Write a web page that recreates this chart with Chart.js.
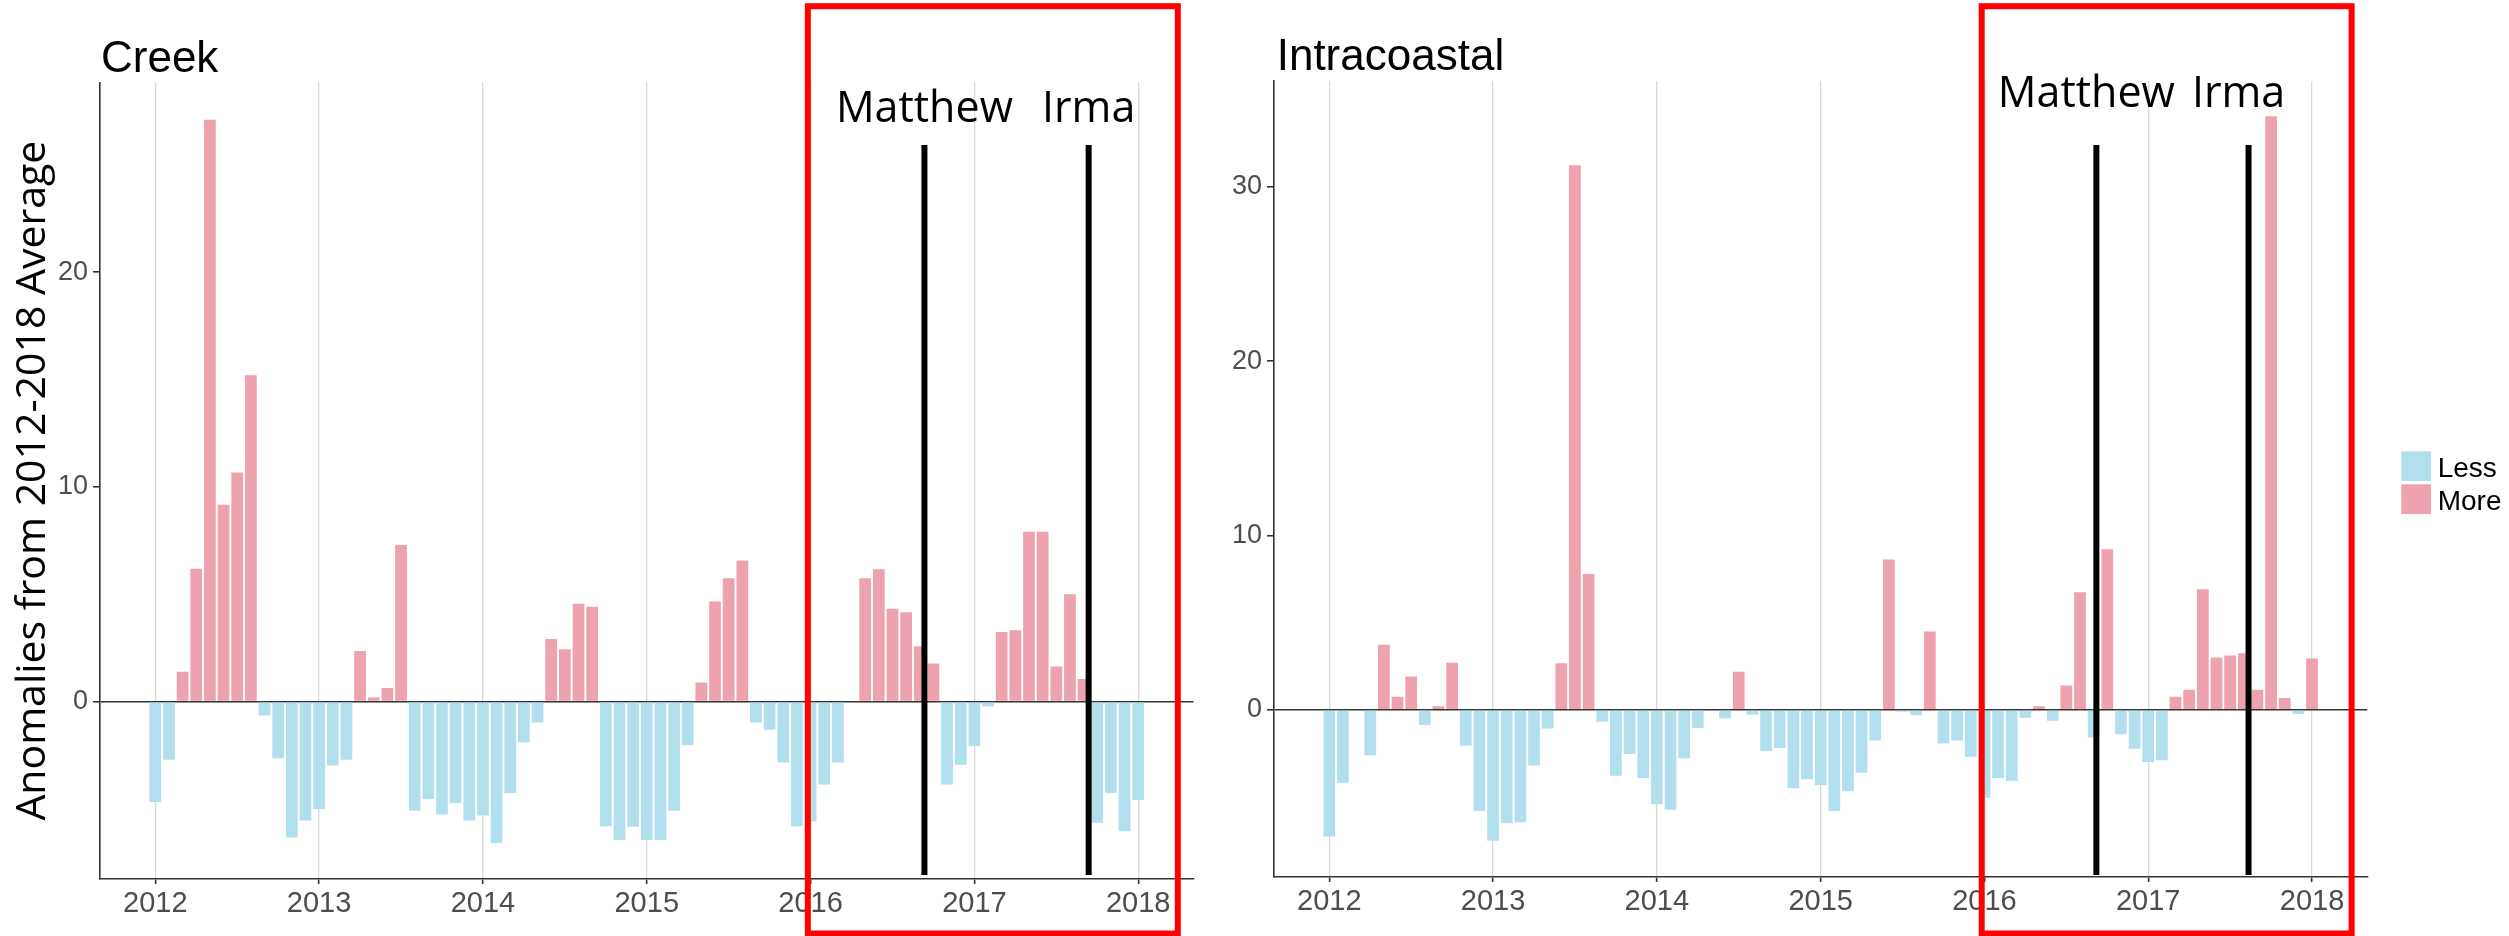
<!DOCTYPE html>
<html>
<head>
<meta charset="utf-8">
<script src="https://cdn.jsdelivr.net/npm/chart.js@4.4.7/dist/chart.umd.min.js"></script>
<style>
  html, body { margin: 0; padding: 0; background: #fff; }
  #wrap { position: relative; width: 2509px; height: 936px; overflow: hidden; background: #fff; }
  #creek { position: absolute; left: 0; top: 0; width: 1200px; height: 936px; }
  #intra { position: absolute; left: 1200px; top: 0; width: 1309px; height: 936px; }
</style>
</head>
<body>
<div id="wrap">
  <canvas id="creek" width="1200" height="936"></canvas>
  <canvas id="intra" width="1309" height="936"></canvas>
</div>
<script>
// monthly anomalies, Jan 2012 .. Jan 2018 (x = month index from Jan 2012)
var yearLabels = ['2012', '2013', '2014', '2015', '2016', '2017', '2018'];
var yearTicks = [0, 12, 24, 36, 48, 60, 72];

var creekValues = [
  -4.67, -2.7, 1.39, 6.19, 27.1, 9.17, 10.67, 15.2, -0.64, -2.64, -6.33, -5.53,
  -5.0, -2.97, -2.7, 2.36, 0.19, 0.64, 7.3, -5.08, -4.53, -5.25, -4.72, -5.53,
  -5.3, -6.58, -4.25, -1.89, -0.97, 2.92, 2.44, 4.56, 4.42, -5.8, -6.44, -5.83,
  -6.44, -6.44, -5.08, -2.03, 0.89, 4.67, 5.75, 6.58, -0.97, -1.31, -2.83, -5.8,
  -5.58, -3.86, -2.83, 0, 5.75, 6.17, 4.33, 4.17, 2.58, 1.78, -3.86, -2.94,
  -2.08, -0.22, 3.25, 3.33, 7.92, 7.92, 1.64, 5.0, 1.06, -5.64, -4.25, -6.03,
  -4.58
];

var intraValues = [
  -7.26, -4.18, 0, -2.6, 3.73, 0.75, 1.92, -0.86, 0.21, 2.7, -2.05, -5.79,
  -7.5, -6.5, -6.44, -3.18, -1.06, 2.67, 31.23, 7.8, -0.68, -3.77, -2.53, -3.9,
  -5.41, -5.72, -2.77, -1.03, 0, -0.48, 2.19, -0.27, -2.36, -2.19, -4.49, -3.97,
  -4.32, -5.79, -4.66, -3.6, -1.75, 8.63, -0.1, -0.31, 4.49, -1.92, -1.75, -2.7,
  -5.03, -3.9, -4.08, -0.45, 0.21, -0.62, 1.4, 6.75, -1.58, 9.21, -1.4, -2.23,
  -2.98, -2.88, 0.75, 1.16, 6.92, 3.01, 3.12, 3.25, 1.16, 34.04, 0.68, -0.24,
  2.95
];

var creekYTicks = [0, 10, 20];
var intraYTicks = [0, 10, 20, 30];

// hurricanes (month index) and the highlighted window
var eventNames = ['Matthew', 'Irma'];
var creekEvents = [56.34, 68.37];
var intraEvents = [56.2, 67.35];
var windowMonths = [47.8, 74.9];

var legendLabels = ['Less', 'More'];

var LESS = '#B2DFEE';
var MORE = '#EEA2AD';
var AXIS = '#333333';
var GRID = '#D9D9D9';
var TICK_TEXT = '#4D4D4D';
var SANS = '"Liberation Sans", Arial, sans-serif';
var NOTE = '"Open Sans", sans-serif';

Chart.defaults.font.family = SANS;

function toPoints(values) {
  return values.map(function (v, i) {
    return { x: i, y: v };
  });
}

var overlay = {
  id: 'overlay',
  afterDatasetsDraw: function (chart, args, opts) {
    var ctx = chart.ctx;
    var xs = chart.scales.x;
    var area = chart.chartArea;
    ctx.save();
    ctx.strokeStyle = '#000';
    ctx.lineWidth = 6;
    opts.events.forEach(function (m) {
      var px = xs.getPixelForValue(m);
      ctx.beginPath();
      ctx.moveTo(px, 145);
      ctx.lineTo(px, 875);
      ctx.stroke();
    });

    // panel title
    ctx.fillStyle = '#000';
    ctx.font = '44px ' + SANS;
    ctx.textAlign = 'left';
    ctx.textBaseline = 'alphabetic';
    ctx.fillText(opts.title, area.left + opts.titleDx, opts.titleBaseline);

    // hurricane names
    ctx.font = '43px ' + NOTE;
    ctx.textAlign = 'center';
    opts.events.forEach(function (m, i) {
      ctx.fillText(eventNames[i], xs.getPixelForValue(m) - opts.noteShift, opts.noteBaseline);
    });

    // highlight window
    var x0 = xs.getPixelForValue(windowMonths[0]);
    var x1 = xs.getPixelForValue(windowMonths[1]);
    ctx.strokeStyle = '#FF0000';
    ctx.lineWidth = 6;
    ctx.strokeRect(x0, 6.2, x1 - x0, 927.3);

    if (opts.legend) {
      var bx = area.right + 34;
      var by = (area.top + area.bottom) / 2 - 27.7;
      var colors = [LESS, MORE];
      ctx.font = '28px ' + SANS;
      ctx.textAlign = 'left';
      legendLabels.forEach(function (lab, i) {
        ctx.fillStyle = colors[i];
        ctx.fillRect(bx, by + i * 33, 29.7, 29.7);
        ctx.fillStyle = '#000';
        ctx.fillText(lab, bx + 36.4, by + i * 33 + 25.4);
      });
    }
    ctx.restore();
  },
};

function makeChart(id, values, yTicks, yMin, yMax, axisWidth, xHeight, padding, yTitle, extra) {
  var ctx = document.getElementById(id).getContext('2d');
  return new Chart(ctx, {
    type: 'bar',
    data: {
      datasets: [
        {
          data: toPoints(values),
          backgroundColor: function (c) {
            return c.raw && c.raw.y < 0 ? LESS : MORE;
          },
          borderWidth: 0,
          barPercentage: 0.86,
          categoryPercentage: 1,
        },
      ],
    },
    options: {
      responsive: false,
      animation: false,
      devicePixelRatio: 1,
      layout: { padding: padding },
      plugins: {
        legend: { display: false },
        tooltip: { enabled: false },
        overlay: extra,
      },
      scales: {
        x: {
          type: 'linear',
          min: -4.05,
          max: 76.05,
          offset: false,
          grid: {
            offset: false,
            color: GRID,
            lineWidth: 1.3,
            tickColor: AXIS,
            tickLength: 5,
            tickWidth: 1.6,
          },
          border: { display: true, color: AXIS, width: 1.6 },
          afterBuildTicks: function (s) {
            s.ticks = yearTicks.map(function (v) {
              return { value: v };
            });
          },
          afterFit: function (s) {
            s.height = xHeight;
          },
          ticks: {
            autoSkip: false,
            maxRotation: 0,
            color: TICK_TEXT,
            padding: 3,
            font: { size: 29 },
            callback: function (v, i) {
              return yearLabels[i];
            },
          },
        },
        y: {
          type: 'linear',
          min: yMin,
          max: yMax,
          grid: {
            color: function (c) {
              return c.tick && c.tick.value === 0 ? AXIS : 'rgba(0,0,0,0)';
            },
            lineWidth: 1.6,
            tickColor: AXIS,
            tickLength: 7,
            tickWidth: 1.6,
          },
          border: { display: true, color: AXIS, width: 1.6 },
          afterBuildTicks: function (s) {
            s.ticks = yTicks.map(function (v) {
              return { value: v };
            });
          },
          afterFit: function (s) {
            s.width = axisWidth;
          },
          ticks: {
            color: TICK_TEXT,
            padding: 5,
            font: { size: 27 },
            callback: function (v) {
              return String(v);
            },
          },
          title: yTitle,
        },
      },
    },
    plugins: [overlay],
  });
}

makeChart('creek', creekValues, creekYTicks, -8.26, 28.85, 100, 57,
  { left: 0, right: 6.5, top: 82.3, bottom: 0 },
  {
    display: true,
    text: 'Anomalies from 2012-2018 Average',
    color: '#000',
    font: { family: NOTE, size: 41, lineHeight: 1.2 },
    padding: { top: 9, bottom: 0 },
  },
  { events: creekEvents, title: 'Creek', titleDx: 1, titleBaseline: 71.7,
    noteBaseline: 122, noteShift: 0, legend: false });

makeChart('intra', intraValues, intraYTicks, -9.58, 36.06, 74, 59,
  { left: 0, right: 141.7, top: 81, bottom: 0 },
  { display: false },
  { events: intraEvents, title: 'Intracoastal', titleDx: 2.7, titleBaseline: 70,
    noteBaseline: 107, noteShift: 10, legend: true });
</script>
</body>
</html>
